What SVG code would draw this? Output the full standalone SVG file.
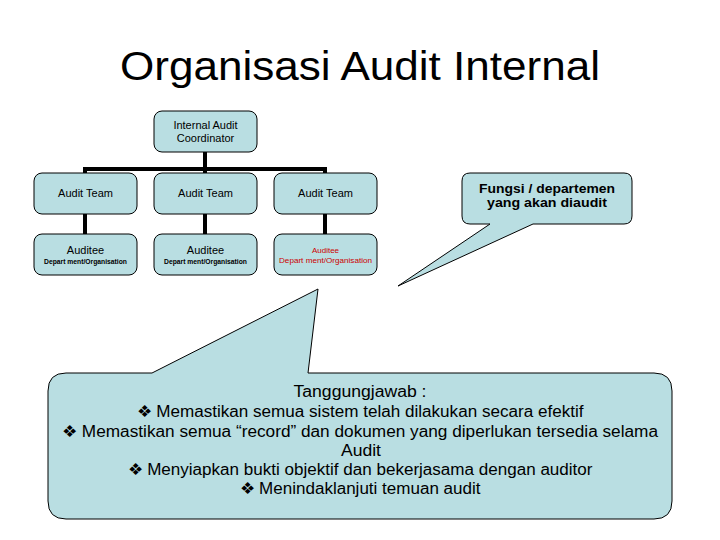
<svg xmlns="http://www.w3.org/2000/svg" width="720" height="540" viewBox="0 0 720 540">
<style>
.box{fill:#B9DEE2;stroke:#000;stroke-width:1}
.t{font-family:"Liberation Sans",Arial,sans-serif;fill:#000;text-anchor:middle}
.conn{stroke:#000;stroke-width:4;fill:none}
.red{fill:#CC0000}
</style>
<rect width="720" height="540" fill="#fff"/>
<text class="t" x="360" y="80" font-size="40" textLength="480" lengthAdjust="spacingAndGlyphs">Organisasi Audit Internal</text>

<g id="connectors">
<path class="conn" d="M205,152 V169 M85,169 H325 M85,167 V173 M205,167 V173 M325,167 V173 M85,214 V234 M205,214 V234 M325,214 V234"/>
</g>

<g id="coordinator">
<rect class="box" x="154" y="111" width="103" height="41" rx="8"/>
<text class="t" x="205.5" y="129" font-size="11">Internal Audit</text>
<text class="t" x="205.5" y="142" font-size="11">Coordinator</text>
</g>

<g id="team1">
<rect class="box" x="34" y="173" width="103" height="41" rx="8"/>
<text class="t" x="85.5" y="197" font-size="11">Audit Team</text>
</g>
<g id="team2">
<rect class="box" x="154" y="173" width="103" height="41" rx="8"/>
<text class="t" x="205.5" y="197" font-size="11">Audit Team</text>
</g>
<g id="team3">
<rect class="box" x="274" y="173" width="103" height="41" rx="8"/>
<text class="t" x="325.5" y="197" font-size="11">Audit Team</text>
</g>

<g id="auditee1">
<rect class="box" x="34" y="234" width="103" height="41" rx="8"/>
<text class="t" x="85.5" y="254" font-size="11">Auditee</text>
<text class="t" x="85.5" y="264" font-size="6.5" font-weight="bold" textLength="83" lengthAdjust="spacingAndGlyphs">Depart ment/Organisation</text>
</g>
<g id="auditee2">
<rect class="box" x="154" y="234" width="103" height="41" rx="8"/>
<text class="t" x="205.5" y="254" font-size="11">Auditee</text>
<text class="t" x="205.5" y="264" font-size="6.5" font-weight="bold" textLength="83" lengthAdjust="spacingAndGlyphs">Depart ment/Organisation</text>
</g>
<g id="auditee3">
<rect class="box" x="274" y="234" width="103" height="41" rx="8"/>
<text class="t red" x="325.5" y="253" font-size="8">Auditee</text>
<text class="t red" x="325.5" y="263" font-size="8" textLength="93" lengthAdjust="spacingAndGlyphs">Depart ment/Organisation</text>
</g>

<g id="callout-fungsi">
<path class="box" d="M470,173 L624,173 Q632,173 632,181 L632,216 Q632,224 624,224 L533,224 L398,286 L490,224 L470,224 Q462,224 462,216 L462,181 Q462,173 470,173 Z"/>
<text class="t" x="547" y="192.5" font-size="13" font-weight="bold" textLength="136" lengthAdjust="spacingAndGlyphs">Fungsi / departemen</text>
<text class="t" x="547" y="207" font-size="13" font-weight="bold" textLength="120" lengthAdjust="spacingAndGlyphs">yang akan diaudit</text>
</g>

<g id="callout-tanggungjawab">
<path class="box" d="M66,373 L152,373 L318,289 L308,373 L654,373 Q672,373 672,391 L672,501 Q672,519 654,519 L66,519 Q48,519 48,501 L48,391 Q48,373 66,373 Z"/>
<g font-size="16">
<text class="t" x="360" y="397" textLength="133" lengthAdjust="spacingAndGlyphs">Tanggungjawab :</text>
<text class="t" x="360" y="417" textLength="447" lengthAdjust="spacingAndGlyphs">❖ Memastikan semua sistem telah dilakukan secara efektif</text>
<text class="t" x="360" y="437" textLength="596" lengthAdjust="spacingAndGlyphs">❖ Memastikan semua “record” dan dokumen yang diperlukan tersedia selama</text>
<text class="t" x="361" y="456" textLength="40" lengthAdjust="spacingAndGlyphs">Audit</text>
<text class="t" x="360" y="475" textLength="465" lengthAdjust="spacingAndGlyphs">❖ Menyiapkan bukti objektif dan bekerjasama dengan auditor</text>
<text class="t" x="360" y="494" textLength="241" lengthAdjust="spacingAndGlyphs">❖ Menindaklanjuti temuan audit</text>
</g>
</g>
</svg>
